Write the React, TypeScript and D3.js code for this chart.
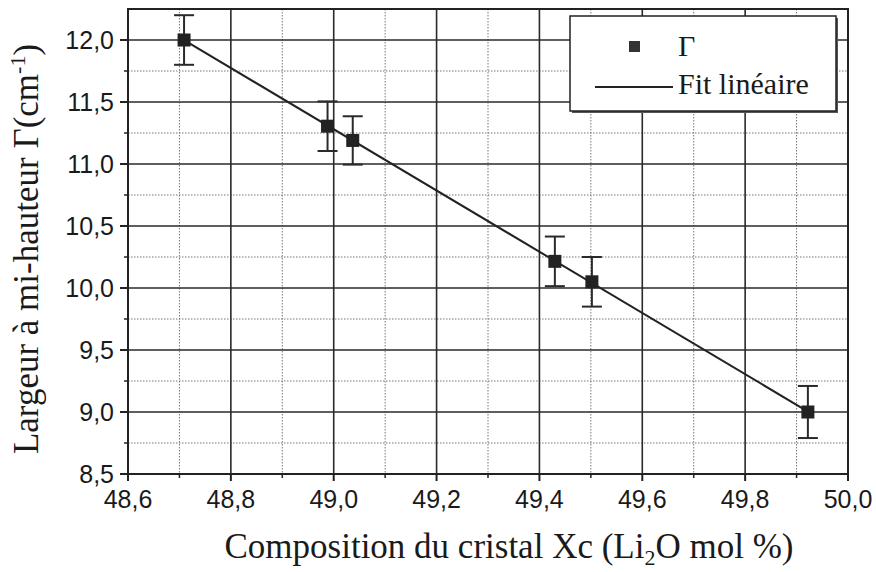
import React from "react";
import * as d3 from "d3";

const compositions = [48.709, 48.988, 49.037, 49.43, 49.502, 49.922];
const widths = [12.0, 11.305, 11.19, 10.215, 10.05, 9.0];
const errors = [0.2, 0.2, 0.195, 0.2, 0.2, 0.21];
const xMajorTicks = [48.6, 48.8, 49.0, 49.2, 49.4, 49.6, 49.8, 50.0];
const xMinorTicks = [48.7, 48.9, 49.1, 49.3, 49.5, 49.7, 49.9];
const yMajorTicks = [8.5, 9.0, 9.5, 10.0, 10.5, 11.0, 11.5, 12.0];
const yMinorTicks = [8.75, 9.25, 9.75, 10.25, 10.75, 11.25, 11.75];
const legendLabels = ["Γ", "Fit linéaire"];

const W = 876;
const H = 572;
const L = 128, R = 848, T = 9, B = 474;

const fmt = (v: number) => d3.format(".1f")(v).replace(".", ",");

export default function App() {
  const x = d3.scaleLinear().domain([48.6, 50.0]).range([L, R]);
  const y = d3.scaleLinear().domain([8.5, 12.25]).range([B, T]);

  // least squares linear fit
  const mx = d3.mean(compositions)!;
  const my = d3.mean(widths)!;
  let sxy = 0, sxx = 0;
  compositions.forEach((c, i) => {
    sxy += (c - mx) * (widths[i] - my);
    sxx += (c - mx) * (c - mx);
  });
  const slope = sxy / sxx;
  const icpt = my - slope * mx;
  const xs = d3.extent(compositions) as [number, number];
  const fitPts: [number, number][] = xs.map((v) => [v, icpt + slope * v]);
  const line = d3
    .line<[number, number]>()
    .x((d) => x(d[0]))
    .y((d) => y(d[1]));

  const sans = "'Liberation Sans', Arial, Helvetica, sans-serif";
  const serif = "'Liberation Serif', 'Times New Roman', Times, serif";

  return (
    <svg
      width={W}
      height={H}
      style={{ position: "absolute", left: 0, top: 0, background: "#fff" }}
    >
      <rect x={0} y={0} width={W} height={H} fill="#fff" />
      {/* minor grid */}
      {xMinorTicks.map((v) => (
        <line key={"gxm" + v} x1={x(v)} x2={x(v)} y1={T} y2={B} stroke="#777" strokeWidth={1} strokeDasharray="1.5,1.5" />
      ))}
      {yMinorTicks.map((v) => (
        <line key={"gym" + v} x1={L} x2={R} y1={y(v)} y2={y(v)} stroke="#777" strokeWidth={1} strokeDasharray="1.5,1.5" />
      ))}
      {/* major grid */}
      {xMajorTicks.map((v) => (
        <line key={"gx" + v} x1={x(v)} x2={x(v)} y1={T} y2={B} stroke="#2a2a2a" strokeWidth={1.6} />
      ))}
      {yMajorTicks.map((v) => (
        <line key={"gy" + v} x1={L} x2={R} y1={y(v)} y2={y(v)} stroke="#2a2a2a" strokeWidth={1.6} />
      ))}
      {/* frame */}
      <rect x={L} y={T} width={R - L} height={B - T} fill="none" stroke="#222" strokeWidth={2} />
      {/* ticks */}
      {xMajorTicks.map((v) => (
        <line key={"tx" + v} x1={x(v)} x2={x(v)} y1={B} y2={B + 7} stroke="#222" strokeWidth={2} />
      ))}
      {xMinorTicks.map((v) => (
        <line key={"txm" + v} x1={x(v)} x2={x(v)} y1={B} y2={B + 4} stroke="#222" strokeWidth={1.5} />
      ))}
      {yMajorTicks.map((v) => (
        <line key={"ty" + v} x1={L - 8} x2={L} y1={y(v)} y2={y(v)} stroke="#222" strokeWidth={2} />
      ))}
      {yMinorTicks.map((v) => (
        <line key={"tym" + v} x1={L - 4} x2={L} y1={y(v)} y2={y(v)} stroke="#222" strokeWidth={1.5} />
      ))}
      {/* tick labels */}
      {xMajorTicks.map((v) => (
        <text key={"lx" + v} x={x(v)} y={B + 34} textAnchor="middle" fontFamily={sans} fontSize={25} fill="#1a1a1a">
          {fmt(v)}
        </text>
      ))}
      {yMajorTicks.map((v) => (
        <text key={"ly" + v} x={L - 14} y={y(v)} dy="0.36em" textAnchor="end" fontFamily={sans} fontSize={25} fill="#1a1a1a">
          {fmt(v)}
        </text>
      ))}
      {/* fit line */}
      <path d={line(fitPts) || ""} fill="none" stroke="#222" strokeWidth={2} />
      {/* error bars and points */}
      {compositions.map((c, i) => {
        const cx = x(c);
        const cy = y(widths[i]);
        const y1 = y(widths[i] + errors[i]);
        const y2 = y(widths[i] - errors[i]);
        return (
          <g key={"p" + i}>
            <line x1={cx} x2={cx} y1={y1} y2={y2} stroke="#2a2a2a" strokeWidth={2} />
            <line x1={cx - 10} x2={cx + 10} y1={y1} y2={y1} stroke="#2a2a2a" strokeWidth={2} />
            <line x1={cx - 10} x2={cx + 10} y1={y2} y2={y2} stroke="#2a2a2a" strokeWidth={2} />
            <rect x={cx - 6.5} y={cy - 6.5} width={13} height={13} fill="#222" />
          </g>
        );
      })}
      {/* legend */}
      <rect x={572} y={18} width={266} height={95} fill="#555" />
      <rect x={570} y={16} width={266} height={95} fill="#fff" stroke="#222" strokeWidth={1.5} />
      <rect x={629} y={41} width={11} height={11} fill="#333" />
      <text x={678} y={56} fontFamily={serif} fontSize={30} fill="#1a1a1a">
        {legendLabels[0]}
      </text>
      <line x1={595} x2={673} y1={87} y2={87} stroke="#222" strokeWidth={1.8} />
      <text x={678} y={94} fontFamily={serif} fontSize={30} fill="#1a1a1a">
        {legendLabels[1]}
      </text>
      {/* axis titles */}
      <text x={509} y={558} textAnchor="middle" fontFamily={serif} fontSize={35} fill="#1a1a1a">
        Composition du cristal Xc (Li
        <tspan dy={7} fontSize={22}>2</tspan>
        <tspan dy={-7}>O mol %)</tspan>
      </text>
      <text
        transform={`translate(38, ${249}) rotate(-90)`}
        textAnchor="middle"
        fontFamily={serif}
        fontSize={35}
        fill="#1a1a1a"
      >
        Largeur à mi-hauteur Γ(cm
        <tspan dy={-13} fontSize={22}>-1</tspan>
        <tspan dy={13}>)</tspan>
      </text>
    </svg>
  );
}
